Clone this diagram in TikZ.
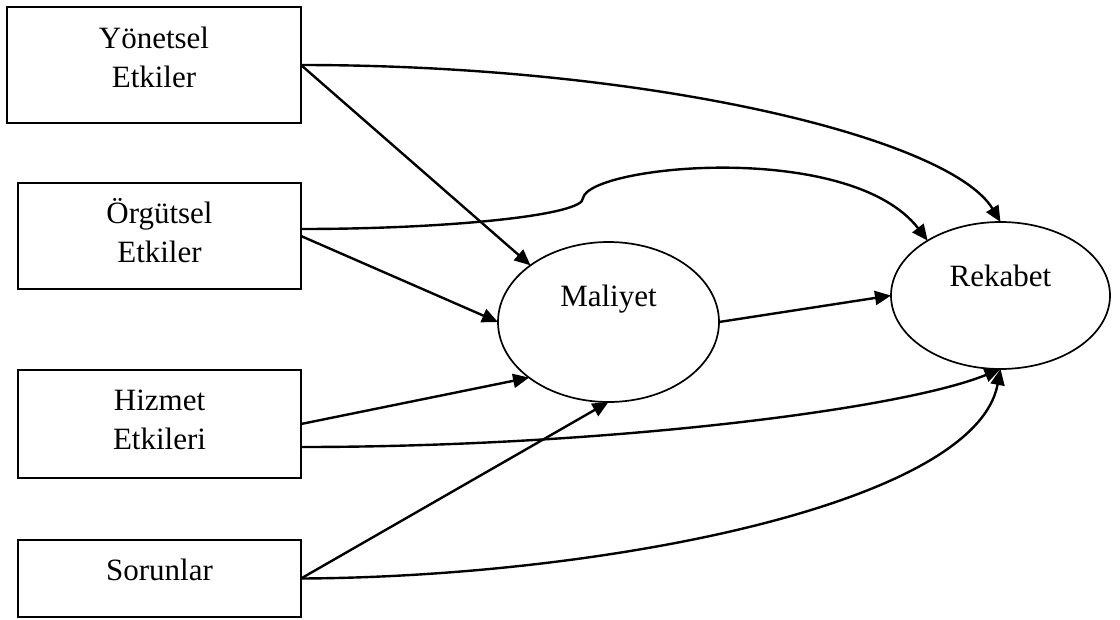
\documentclass[tikz,border=0pt]{standalone}
\usepackage{fontspec}
\setmainfont{Liberation Serif}
\usetikzlibrary{arrows.meta,shapes.geometric}
\begin{document}
\begin{tikzpicture}[x=1pt,y=-1pt,
  box/.style={draw,line width=2pt,rectangle,inner sep=0pt,outer sep=0pt},
  oval/.style={draw,line width=1.7pt,ellipse,inner sep=0pt,outer sep=0pt},
  lbl/.style={font=\fontsize{31}{39}\selectfont,align=center,inner sep=0pt},
  conn/.style={line width=2.4pt,-{Triangle[length=16pt,width=14pt]}},
]
\useasboundingbox (0,0) rectangle (1120,619);
\node[box,minimum width=294pt,minimum height=116pt,label={[lbl,yshift=8pt]center:{Yönetsel\\Etkiler}}] (yon) at (154,65) {};
\node[box,minimum width=283pt,minimum height=106pt,label={[lbl,yshift=5pt]center:{Örgütsel\\Etkiler}}] (org) at (159.5,236) {};
\node[box,minimum width=283pt,minimum height=108pt,label={[lbl,yshift=4pt]center:{Hizmet\\Etkileri}}] (hiz) at (159.5,424) {};
\node[box,minimum width=283pt,minimum height=77pt,label={[lbl,yshift=9pt]center:{Sorunlar}}] (sor) at (159.5,578.5) {};
\node[oval,minimum width=221pt,minimum height=160pt,label={[lbl,yshift=23pt]center:{Maliyet}}] (mal) at (608.5,322) {};
\node[oval,minimum width=219pt,minimum height=147pt,label={[lbl,yshift=20pt]center:{Rekabet}}] (rek) at (1000.5,295.5) {};
\coordinate (kink) at (583,198);
\draw[conn] (yon.east) -- (mal.144);
\draw[conn] (yon.east) .. controls (650,65) and (950,138) .. (rek.north);
\draw[conn] ([yshift=7pt]org.east) .. controls (450,229) and (585,215) .. (kink) .. controls (590,165) and (850,140) .. (rek.143);
\draw[conn] (org.east) -- (mal.west);
\draw[conn] (hiz.east) -- (mal.215);
\draw[conn] ([yshift=-23pt]hiz.east) .. controls (600,447) and (900,410) .. (rek.south);
\draw[conn] (sor.east) -- (mal.south);
\draw[conn] (sor.east) .. controls (600,577) and (975,505) .. (rek.south);
\draw[conn] (mal.east) -- (rek.west);
\end{tikzpicture}
\end{document}
